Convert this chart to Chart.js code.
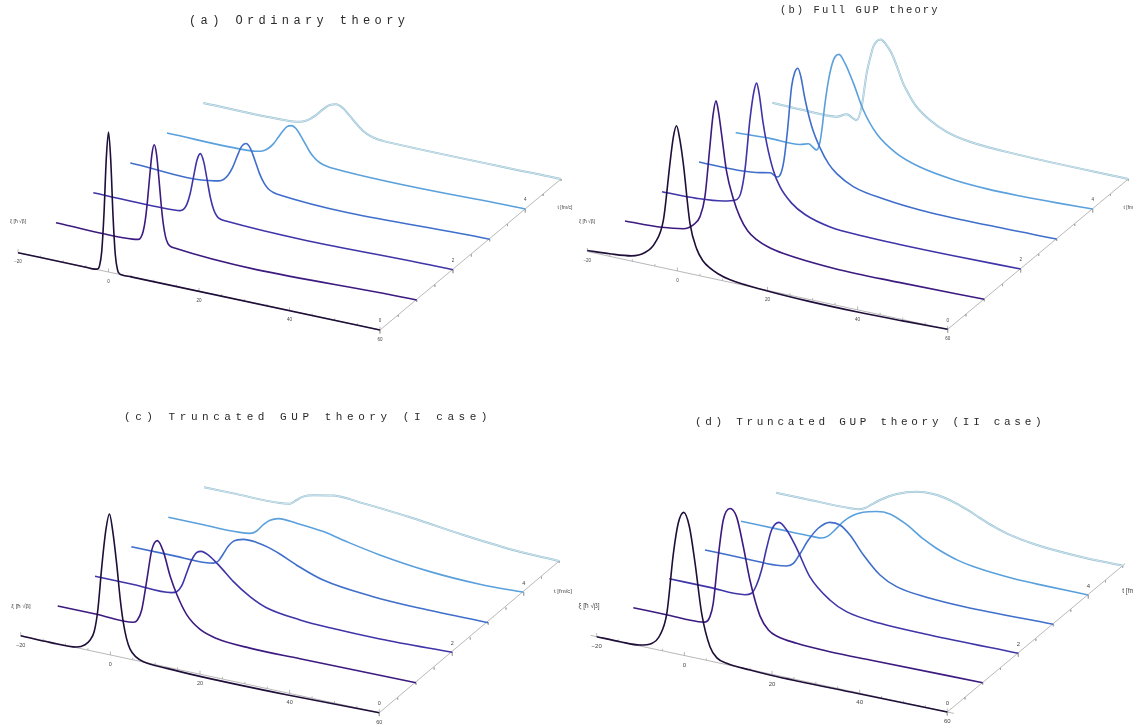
<!DOCTYPE html>
<html>
<head>
<meta charset="utf-8">
<title>Wave packet evolution</title>
<script src="https://cdn.jsdelivr.net/npm/chart.js@4"></script>
<style>
    html, body { margin: 0; padding: 0; background: #fff; overflow: hidden; }
    #page { position: relative; width: 1133px; height: 725px; overflow: hidden; }
    canvas { position: absolute; }
    .title { position: absolute; font-family: "Liberation Mono", monospace; color: #2a2a2a; white-space: pre; line-height: 12px; will-change: opacity; }
</style>
</head>
<body>
<div id="page"></div>
<script>
// Values: xi position and packet height for each time slice
const xiTicks = [-20, 0, 20, 40, 60];
const tTicks = [0, 2, 4];
const timeSlices = [0, 1, 2, 3, 4, 5];

// (a) Ordinary theory
const aXi0 = [-20, -5, -3, -2.5, -2, -1.5, -1, -0.5, 0, 0.5, 1, 1.5, 2, 2.5, 3, 5, 60];
const aH0 = [0, 0, 0, 0.5, 4, 19, 57, 112, 140, 112, 57, 19, 4, 0.5, 0, 0, 0];
const aXi1 = [-20, -3, -1.7, -1.2, -0.7, -0.2, 0.3, 0.8, 1.3, 1.8, 2.3, 2.8, 3.3, 3.8, 4.3, 4.8, 5.3, 6.3, 60];
const aH1 = [0, 0, 1, 3.3, 9.3, 21.7, 42, 67.5, 90, 99, 90, 67.5, 42, 21.7, 9.3, 3.3, 1, 0, 0];
const aXi2 = [-20, -2, -0.7, 0.05, 0.8, 1.55, 2.3, 3.05, 3.8, 4.55, 5.3, 6.05, 6.8, 7.55, 8.3, 9.5, 60];
const aH2 = [0, 0, 0.7, 2.7, 8.4, 20, 37.6, 54.7, 62, 54.7, 37.6, 20, 8.4, 2.7, 0.7, 0, 0];
const aXi3 = [-20, -1.25, -0.25, 0.75, 1.75, 2.75, 3.75, 4.75, 5.75, 6.75, 7.75, 8.75, 9.75, 10.75, 11.75, 12.75, 60];
const aH3 = [0, 0, 1, 3.3, 8.4, 17, 29, 40, 44, 40, 29, 17, 8.4, 3.3, 1, 0, 0];
const aXi4 = [-20, -1.2, -0.2, 0.8, 1.8, 2.8, 3.8, 4.8, 5.8, 6.8, 7.8, 8.8, 9.8, 10.8, 11.8, 12.8, 13.8, 14.8, 15.8, 16.8, 60];
const aH4 = [0, 0, 0.6, 1.5, 3.4, 6.9, 12, 19, 26, 31.8, 33.8, 31.8, 26, 19, 12, 6.9, 3.4, 1.5, 0.6, 0, 0];
const aXi5 = [-20, -0.8, 0.7, 2.2, 3.7, 5.2, 6.7, 8.2, 9.7, 11.2, 12.7, 14.2, 15.7, 17.2, 18.7, 20.2, 22, 60];
const aH5 = [0, 0.3, 1, 2.7, 6.2, 11.8, 18.7, 24.6, 27, 24.6, 18.7, 11.8, 6.2, 2.7, 1, 0.3, 0, 0];

// (b) Full GUP theory
const bXi0 = [-20, -15, -10.2, -7.2, -5, -3.1, -1.65, -0.9, -0.2, 0.5, 1.3, 2.8, 4.3, 5.7, 7.2, 9, 11.7, 20, 29, 40, 50, 60];
const bH0 = [1, 2.6, 5.2, 11.5, 23, 48, 106, 133, 145, 133, 109, 50, 26, 15.5, 10, 6, 2.5, -0.6, -2, -2.2, -1.3, 0];
const bXi1 = [-20, -11.8, -7, -4.8, -3.3, -2.2, -1.1, -0.4, 0.26, 0.8, 1.5, 2.6, 4.1, 5.6, 7.3, 9.3, 12, 15.3, 27, 41, 60];
const bH1 = [0, 1.7, 5, 11, 20.7, 41.8, 93, 125, 140, 130, 108, 72, 46, 29, 17, 10, 5, 2, -2, -1.7, 0];
const bXi2 = [-20, -12.3, -6.3, -3.6, -2.45, -1.5, -0.4, 0.5, 1.1, 1.7, 2.5, 3.35, 4.8, 6.3, 8.9, 11.9, 17.5, 25, 33, 45, 60];
const bH2 = [0, 0.8, 3.9, 7.5, 15.3, 39.6, 90.6, 120, 129, 118, 92, 70.9, 45.7, 30.4, 16.5, 8, 1, -1, -1.5, -1.2, 0];
const bXi3 = [-20, -11.6, -6.35, -4.1, -2.5, -1.7, -1, -0.2, 0.7, 1.4, 2.1, 2.8, 3.6, 5.2, 7.1, 9, 10.8, 14.5, 22, 29.4, 44.4, 60];
const bH3 = [0, 0.1, 2.5, 4.6, 1.9, 6.2, 20, 51, 95, 110, 115, 107, 88, 60, 40, 26, 18, 8.6, 2.4, -0.4, -1.1, 0];
const bXi4 = [-20, -12.3, -5.6, -3.7, -1.85, -1.1, -0.7, 0, 0.8, 1.9, 3.15, 4.5, 6.4, 8.6, 11.6, 16.1, 21.3, 28.8, 36.3, 43.8, 52, 60];
const bH4 = [0, 1.7, 2, 4.5, 0, 9, 21, 48, 72.5, 93.5, 100.4, 92.7, 74.5, 50, 29, 13.5, 5, -0.5, -2.5, -2.5, -1.5, 0];
const bXi5 = [-20, -13, -5.5, -3.3, -1.05, 0.07, 1.2, 2, 2.7, 3.5, 4.35, 5.5, 6.8, 8.1, 9.4, 10.9, 12.4, 15.4, 19.2, 24.4, 35.7, 60];
const bH5 = [0, -0.7, -0.2, 4.3, 0.7, 15, 49.6, 66, 77.7, 84, 86.5, 83, 75, 62, 47.4, 36, 27, 16.5, 8.3, 3.3, 0.7, 0];

// (c) Truncated GUP theory (I case)
const cXi0 = [-20, -13.5, -7.5, -5.65, -4.6, -3.6, -2.8, -1.9, -1, -0.2, 0.5, 1.4, 2.2, 2.9, 3.6, 4.4, 5.7, 7.4, 12.6, 20, 39.3, 60];
const cH0 = [0, -0.4, 0.7, 4.8, 10, 20, 42, 87, 124, 140.7, 125.4, 92.9, 58, 35, 20, 10, 3.5, 0.3, -1.3, -2.2, -2, 0];
const cXi1 = [-20, -11.3, -3.1, -2.2, -1.25, -0.1, 1, 2.25, 3.6, 5.1, 6.6, 8.8, 11.8, 15.5, 22.9, 34.1, 60];
const cH1 = [0, 0, -0.1, 3, 14, 45, 76, 86.7, 77, 54, 37, 19, 7, 1.5, -1, -0.8, 0];
const cXi2 = [-20, -11.4, -2.85, -1.7, -0.6, 0.5, 1.65, 2.75, 3.75, 5.4, 8, 11, 14.7, 18.4, 25.9, 32.6, 43.8, 60];
const cH2 = [0, 0, 0, 2, 8.8, 22.5, 36.9, 45.3, 47.5, 45.4, 36.3, 24.1, 12.6, 5, 0, -1.5, -2, 0];
const cXi3 = [-20, -10.6, -3.1, -1.6, -0.5, 0.6, 1.75, 2.85, 5.1, 8.1, 10.7, 13.3, 17, 23, 34.2, 43.2, 60];
const cH3 = [0, 0, 0, 1.1, 4.2, 12.3, 21.3, 27, 31.2, 31, 28.5, 24.3, 16.9, 7.5, 1.5, 0, 0];
const cXi4 = [-20, -12.9, -3.9, -1.6, -0.1, 1.4, 2.9, 4.75, 8.9, 14.9, 20.1, 27.6, 38.9, 50.1, 60];
const cH4 = [0, 0, 0, 1.2, 5, 12.7, 18.5, 21.9, 21.1, 18.4, 13.3, 7, 0.9, -1.2, 0];
const cXi5 = [-20, -13.4, -2.9, -0.65, 0.85, 2.35, 4.6, 9.1, 15.9, 27.1, 38.4, 49.6, 60];
const cH5 = [0, 0, 0, 1.5, 6.5, 11.3, 14.7, 18.5, 17, 12.4, 6.1, 1.5, 0];

// (d) Truncated GUP theory (II case)
const dXi0 = [-20, -14.7, -10.1, -7.45, -5.55, -4, -2.5, -1.4, -0.15, 1.15, 2.45, 3.95, 5.85, 7.5, 9.65, 15, 19.5, 39.3, 60];
const dH0 = [0, 0, 1, 5.1, 15.3, 38.4, 99.8, 130.9, 143, 129.9, 94.5, 45.9, 14.3, 4.5, 1.3, -0.4, -1.1, -0.8, 0];
const dXi1 = [-20, -11.6, -5.1, -3.6, -2.45, -1.7, -0.55, 0.6, 2.15, 3.65, 5.2, 6.7, 9, 11, 12.8, 17.4, 25, 34.2, 60];
const dH1 = [0, 0, 0, 1, 7.5, 21.5, 69.2, 107, 120, 113, 84.6, 52.7, 19, 6.5, 2.5, -0.5, -1.8, -1.5, 0];
const dXi2 = [-20, -10.7, -2.65, -1.15, 0, 1.15, 2.3, 3.45, 5.15, 6.9, 9.2, 12.2, 16.8, 20.6, 28.3, 39.7, 60];
const dH2 = [0, 0, 0.2, 3, 12.3, 28.4, 51.2, 70.6, 79.8, 73.8, 57.6, 32.1, 13, 4.9, 0.4, -0.6, 0];
const dXi3 = [-20, -11.2, -3.55, -1.25, 0.3, 1.8, 3.75, 6, 8.7, 11, 13.3, 16.4, 20.2, 24, 31.7, 39.3, 60];
const dH3 = [0, 0, 0, 1.4, 5.5, 16.3, 32, 45.9, 54.3, 53.8, 45.9, 28.8, 12.3, 4.2, -0.3, -1.5, 0];
const dXi4 = [-20, -11.8, -3.35, -1.45, 0.1, 1.65, 3.55, 5.85, 8.15, 11.2, 14.3, 18.1, 22, 25, 27.4, 30, 33.5, 42.7, 50.4, 60];
const dH4 = [0, 0, 0, 0.4, 3.9, 11.3, 21.4, 29.8, 34.9, 38.5, 39, 32, 21, 14.5, 10.5, 7, 4, 0.5, 0, 0];
const dXi5 = [-20, -13.7, -2.9, -1, 0.55, 2.1, 4, 7.85, 12.5, 16.3, 19, 21.7, 24.4, 27.1, 30, 33.2, 40.2, 50.2, 60];
const dH5 = [0, 0, 0, 0.7, 3.4, 8.5, 14.6, 24.1, 30.6, 31.8, 30.3, 27.2, 22.8, 17.6, 12.4, 7.9, 2.6, 0, 0];

const sliceColors = ['#1e0e38', '#3c1a80', '#3f35a8', '#3f6fcb', '#5aa0dc', '#93bfd3'];

// leftEdge / rightEdge: where each time slice meets xi = -20 and xi = 60 in the view
const panels = [
    {
        box: [0, 0, 574, 380],
        leftEdge: [[18, 252.7], [56, 222.7], [93.3, 192.7], [130.3, 163], [167, 133], [203.3, 103]],
        rightEdge: [[380, 330], [416.7, 300], [453, 269.7], [489.7, 239.3], [525.3, 209], [561, 179]],
        xi: [aXi0, aXi1, aXi2, aXi3, aXi4, aXi5],
        h: [aH0, aH1, aH2, aH3, aH4, aH5],
        font: 4.5, xiRange: [-20, 60], tEnd: 5,
        xiLabel: [18, 222], tLabel: [565, 208],
    },
    {
        box: [574, 0, 559, 380],
        leftEdge: [[587.3, 251.5], [625, 221], [662, 191.7], [699, 162], [735.7, 132.7], [772.3, 102.7]],
        rightEdge: [[947.7, 329.3], [984.3, 299.3], [1020.7, 269], [1056.7, 239], [1092.7, 209], [1128.3, 179]],
        xi: [bXi0, bXi1, bXi2, bXi3, bXi4, bXi5],
        h: [bH0, bH1, bH2, bH3, bH4, bH5],
        font: 4.5, xiRange: [-20, 60], tEnd: 5,
        xiLabel: [587, 222], tLabel: [1131, 208],
    },
    {
        box: [0, 380, 574, 345],
        leftEdge: [[20.7, 635.7], [57.7, 606], [95, 576.3], [131.3, 546.7], [168.3, 517.3], [204, 487.3]],
        rightEdge: [[379.3, 712.7], [416, 682.7], [452.3, 652.3], [488.3, 622.7], [523.7, 592.3], [559.3, 561]],
        xi: [cXi0, cXi1, cXi2, cXi3, cXi4, cXi5],
        h: [cH0, cH1, cH2, cH3, cH4, cH5],
        font: 5.5, xiRange: [-20, 60], tEnd: 5,
        xiLabel: [21, 606], tLabel: [563, 591],
    },
    {
        box: [574, 380, 559, 345],
        leftEdge: [[596.7, 636.7], [633.3, 607.7], [669.3, 578.7], [705, 550], [741, 521.3], [776, 492.7]],
        rightEdge: [[947.3, 712], [982.7, 682.7], [1018.3, 653.3], [1053.3, 624.3], [1088.3, 595], [1122.7, 565.7]],
        xi: [dXi0, dXi1, dXi2, dXi3, dXi4, dXi5],
        h: [dH0, dH1, dH2, dH3, dH4, dH5],
        font: 6, xiRange: [-21.4, 61.5], tEnd: 5.07,
        xiLabel: [589, 606], tLabel: [1132, 591],
    },
];

const titles = [
    { text: '(a) Ordinary theory', left: 189, top: 15, size: 12, spacing: 4.4 },
    { text: '(b) Full GUP theory', left: 780, top: 4, size: 10.5, spacing: 2.1 },
    { text: '(c) Truncated GUP theory (I case)', left: 124, top: 411, size: 11, spacing: 4.55 },
    { text: '(d) Truncated GUP theory (II case)', left: 695, top: 416, size: 11, spacing: 3.7 },
];

function edgeAt(edge, t) {
    const i = Math.min(Math.floor(t), 4);
    const f = t - i;
    return [edge[i][0] + (edge[i + 1][0] - edge[i][0]) * f, edge[i][1] + (edge[i + 1][1] - edge[i][1]) * f];
}

// oblique view: (xi, t) sits on the floor between the two edges, height goes straight up
function project(panel, xi, t, h) {
    const s = (xi + 20) / 80;
    const left = edgeAt(panel.leftEdge, t);
    const right = edgeAt(panel.rightEdge, t);
    return {
        x: left[0] + (right[0] - left[0]) * s,
        y: left[1] + (right[1] - left[1]) * s - h,
    };
}

function axisPoints(panel) {
    const pts = [];
    const gap = { x: NaN, y: NaN };
    pts.push(project(panel, panel.xiRange[0], 0, 0), project(panel, panel.xiRange[1], 0, 0), gap);
    pts.push(project(panel, 60, 0, 0), project(panel, 60, panel.tEnd, 0), gap);
    for (let xi = -20; xi <= 60; xi += 5) {
        const p = project(panel, xi, 0, 0);
        const size = xi % 20 === 0 ? 3.5 : 2;
        pts.push(p, { x: p.x, y: p.y - size }, gap);
    }
    for (let t = 0; t <= 5; t += 0.5) {
        const p = project(panel, 60, t, 0);
        const size = t % 2 === 0 ? 3.5 : 2;
        pts.push(p, { x: p.x, y: p.y + size }, gap);
    }
    return pts;
}

function buildDatasets(panel) {
    const sets = [];
    timeSlices.forEach((t) => {
        const data = panel.xi[t].map((xi, i) => project(panel, xi, t, panel.h[t][i]));
        if (t === 5) {
            // the last slice has a pale core inside its outline
            sets.push({ data, borderColor: '#eef5f7', borderWidth: 0.7, cubicInterpolationMode: 'monotone' });
        }
        sets.push({ data, borderColor: sliceColors[t], borderWidth: t === 5 ? 2 : 1.6, cubicInterpolationMode: 'monotone' });
    });
    sets.push({ data: axisPoints(panel), borderColor: '#a6a6a6', borderWidth: 0.8, spanGaps: false });
    return sets;
}

const axisText = {
    id: 'axisText',
    afterDraw(chart, args, opts) {
        const panel = opts.panel;
        const { ctx, scales } = chart;
        const put = (text, p, dy) => ctx.fillText(text, scales.x.getPixelForValue(p.x), scales.y.getPixelForValue(p.y) + dy);
        ctx.save();
        ctx.fillStyle = '#444';
        ctx.textAlign = 'center';
        ctx.textBaseline = 'middle';
        ctx.font = panel.font + 'px "Liberation Sans", sans-serif';
        xiTicks.forEach((xi) => put(String(xi).replace('-', '\u2212'), project(panel, xi, 0, 0), 9.5));
        tTicks.forEach((t) => put(String(t), project(panel, 60, t, 0), -9));
        ctx.font = (panel.font + 0.5) + 'px "Liberation Sans", sans-serif';
        ctx.fillText('\u03BE [\u0127 \u221A\u03B2]', panel.xiLabel[0] - panel.box[0], panel.xiLabel[1] - panel.box[1]);
        ctx.fillText('t [fm/c]', panel.tLabel[0] - panel.box[0], panel.tLabel[1] - panel.box[1]);
        ctx.restore();
    },
};

const page = document.getElementById('page');

titles.forEach((item) => {
    const el = document.createElement('div');
    el.className = 'title';
    el.textContent = item.text;
    el.style.left = item.left + 'px';
    el.style.top = item.top + 'px';
    el.style.fontSize = item.size + 'px';
    el.style.letterSpacing = item.spacing + 'px';
    page.appendChild(el);
});

panels.forEach((panel) => {
    const [left, top, width, height] = panel.box;
    const canvas = document.createElement('canvas');
    canvas.width = width;
    canvas.height = height;
    canvas.style.left = left + 'px';
    canvas.style.top = top + 'px';
    page.appendChild(canvas);

    new Chart(canvas.getContext('2d'), {
        type: 'scatter',
        data: { datasets: buildDatasets(panel) },
        plugins: [axisText],
        options: {
            responsive: false,
            animation: false,
            showLine: true,
            layout: { padding: 0 },
            elements: { point: { radius: 0 } },
            scales: {
                x: { type: 'linear', display: false, min: left, max: left + width },
                y: { type: 'linear', display: false, reverse: true, min: top, max: top + height },
            },
            plugins: {
                legend: { display: false },
                tooltip: { enabled: false },
                axisText: { panel },
            },
        },
    });
});
</script>
</body>
</html>
